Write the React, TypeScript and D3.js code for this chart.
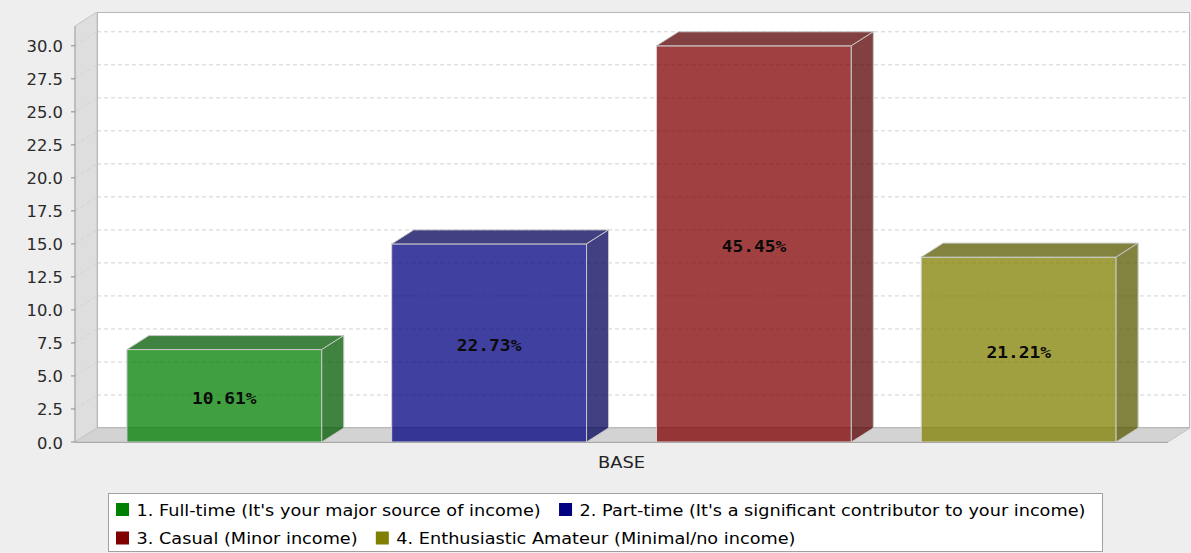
import React from 'react';
import * as d3 from 'd3';

const W = 1191;
const H = 553;

const categories = ['BASE'];
const seriesNames = [
  "1. Full-time (It's your major source of income)",
  "2. Part-time (It's a significant contributor to your income)",
  '3. Casual (Minor income)',
  '4. Enthusiastic Amateur (Minimal/no income)',
];
const seriesValues = [7, 15, 30, 14];
const seriesLabels = ['10.61%', '22.73%', '45.45%', '21.21%'];
const seriesColors = ['#008000', '#000080', '#800000', '#808000'];
const yTickValues = [0, 2.5, 5, 7.5, 10, 12.5, 15, 17.5, 20, 22.5, 25, 27.5, 30];
const yMax = 31.5;
const legendRows = [[0, 1], [2, 3]];

const DX = 22;
const DY = 14;
const SX = 1.49;
const SY = 1.38;
const LSX = 1.475;
const plot = { left: 75, right: 1168, top: 26, bottom: 442 };

let _ctx: CanvasRenderingContext2D | null = null;
function measure(text: string, font: string): number {
  if (!_ctx) {
    const c = document.createElement('canvas');
    _ctx = c.getContext('2d');
  }
  if (!_ctx) return text.length * 7;
  _ctx.font = font;
  return _ctx.measureText(text).width;
}

function darker(c: string): string {
  const r = d3.rgb(c);
  return d3.rgb(Math.floor(r.r * 0.7), Math.floor(r.g * 0.7), Math.floor(r.b * 0.7)).formatHex();
}

function STxt(props: { x: number; y: number; anchor?: string; size: number; family: string; weight?: string; fill?: string; sx?: number; children: React.ReactNode }) {
  const { x, y, anchor = 'start', size, family, weight = 'normal', fill = '#000', sx = SX, children } = props;
  return (
    <text
      transform={`translate(${x},${y}) scale(${sx},${SY})`}
      textAnchor={anchor}
      fontSize={size}
      fontFamily={family}
      fontWeight={weight}
      fill={fill}
    >
      {children}
    </text>
  );
}

export default function App() {
  const y = d3.scaleLinear().domain([0, yMax]).range([plot.bottom, plot.top]);
  const cat = d3.scaleBand().domain(categories).range([plot.left, plot.right]);
  const c0 = cat(categories[0]) as number;
  const x = d3
    .scaleBand()
    .domain(seriesNames)
    .range([c0, c0 + cat.bandwidth()])
    .paddingInner(0.264)
    .paddingOuter(0.196);
  const bw = x.bandwidth();

  const sans = "'DejaVu Sans', sans-serif";
  const mono = "'DejaVu Sans Mono', monospace";

  // legend layout
  const legendLeft = 108.5;
  const legendTop = 493.5;
  const legendW = 994;
  const legendH = 58;
  const rowCenters = [509.5, 538];
  const legendItems: { i: number; sx: number; tx: number; cy: number }[] = [];
  legendRows.forEach((row, ri) => {
    let cx = 116;
    row.forEach((i) => {
      legendItems.push({ i, sx: cx, tx: cx + 20.5, cy: rowCenters[ri] });
      const tw = measure(seriesNames[i], `12px 'DejaVu Sans'`) * LSX;
      cx = cx + 20.5 + tw + 18;
    });
  });

  const yb = plot.bottom;

  return (
    <svg width={W} height={H} style={{ position: 'absolute', left: 0, top: 0 }}>
      <rect x={0} y={0} width={W} height={H} fill="#eeeeee" />
      {/* back wall */}
      <rect x={plot.left + DX} y={plot.top - DY} width={plot.right - plot.left} height={plot.bottom - plot.top} fill="#ffffff" />
      {/* left wall */}
      <polygon
        points={`${plot.left},${plot.top} ${plot.left + DX},${plot.top - DY} ${plot.left + DX},${yb - DY} ${plot.left},${yb}`}
        fill="#dedede"
        stroke="#c4c4c4"
        strokeWidth={1}
      />
      {/* floor */}
      <polygon
        points={`${plot.left},${yb} ${plot.left + DX},${yb - DY} ${plot.right + DX},${yb - DY} ${plot.right},${yb}`}
        fill="#d3d3d3"
        stroke="#c4c4c4"
        strokeWidth={1}
      />
      {/* gridlines */}
      {yTickValues.filter((v) => v > 0).map((v) => (
        <g key={'g' + v} stroke="#d2d2d2" strokeWidth={1} strokeDasharray="4,3" fill="none">
          <line x1={plot.left} y1={y(v)} x2={plot.left + DX} y2={y(v) - DY} />
          <line x1={plot.left + DX} y1={y(v) - DY} x2={plot.right + DX} y2={y(v) - DY} />
        </g>
      ))}
      {/* back wall outline */}
      <rect
        x={plot.left + DX + 0.5}
        y={plot.top - DY + 0.5}
        width={plot.right - plot.left - 1}
        height={plot.bottom - plot.top - 1}
        fill="none"
        stroke="#b8b8b8"
        strokeWidth={1}
      />
      {/* bars */}
      {seriesNames.map((s, i) => {
        const bx = x(s) as number;
        const yt = y(seriesValues[i]);
        const col = seriesColors[i];
        const dk = darker(col);
        return (
          <g key={s}>
            <rect x={bx} y={yt} width={bw} height={yb - yt} fill={col} fillOpacity={0.75} stroke="#d4d4d4" strokeWidth={1} />
            <polygon
              points={`${bx},${yt} ${bx + DX},${yt - DY} ${bx + bw + DX},${yt - DY} ${bx + bw},${yt}`}
              fill={dk}
              fillOpacity={0.75}
              stroke="#c8c8c8"
              strokeWidth={1}
            />
            <polygon
              points={`${bx + bw},${yt} ${bx + bw + DX},${yt - DY} ${bx + bw + DX},${yb - DY} ${bx + bw},${yb}`}
              fill={dk}
              fillOpacity={0.75}
              stroke="#c8c8c8"
              strokeWidth={1}
            />
          </g>
        );
      })}
      {/* axis lines */}
      <line x1={plot.left} y1={plot.top} x2={plot.left} y2={yb} stroke="#a8a8a8" strokeWidth={1} />
      <line x1={plot.left} y1={yb + 0.5} x2={plot.right} y2={yb + 0.5} stroke="#a8a8a8" strokeWidth={1} />
      {/* y ticks */}
      {yTickValues.map((v) => (
        <g key={'t' + v}>
          <line x1={plot.left - 4} y1={y(v)} x2={plot.left} y2={y(v)} stroke="#888" strokeWidth={1} />
          <STxt x={63} y={y(v) + 6.5} anchor="end" size={11} family={sans} fill="#2a2a2a">
            {v.toFixed(1)}
          </STxt>
        </g>
      ))}
      {/* item labels */}
      {seriesNames.map((s, i) => {
        const bx = x(s) as number;
        const yt = y(seriesValues[i]);
        return (
          <STxt key={'l' + s} x={bx + bw / 2} y={(yt + yb) / 2 + 1.5 + 6.5} anchor="middle" size={12} family={mono} weight="bold" fill="#0a0a0a">
            {seriesLabels[i]}
          </STxt>
        );
      })}
      {/* category label */}
      <STxt x={c0 + cat.bandwidth() / 2} y={467.7} anchor="middle" size={12} family={sans} fill="#222">
        {categories[0]}
      </STxt>
      {/* legend */}
      <rect x={legendLeft} y={legendTop} width={legendW} height={legendH} fill="#ffffff" stroke="#a0a0a0" strokeWidth={1} />
      {legendItems.map((it) => (
        <g key={'li' + it.i}>
          <rect x={it.sx} y={it.cy - 6.5} width={13} height={13} fill={seriesColors[it.i]} />
          <STxt x={it.tx} y={it.cy + 6} size={12} family={sans} fill="#000" sx={LSX}>
            {seriesNames[it.i]}
          </STxt>
        </g>
      ))}
    </svg>
  );
}
